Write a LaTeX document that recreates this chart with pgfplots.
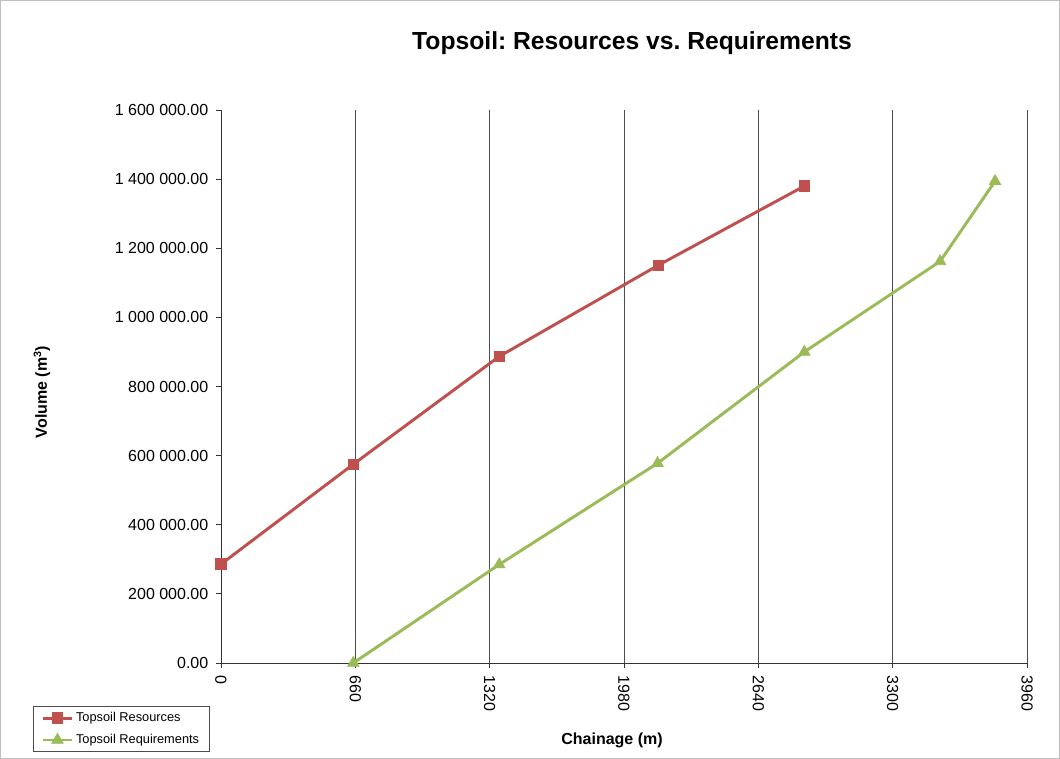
\documentclass[border=0pt]{standalone}
\usepackage{pgfplots}
\pgfplotsset{compat=1.18}
\usepackage{fontspec}
\setmainfont{Liberation Sans}
\frenchspacing
\definecolor{xlred}{HTML}{C0504D}
\definecolor{xlgreen}{HTML}{9BBB59}
\begin{document}
\begin{tikzpicture}
\draw[draw=black!25, line width=0.8pt] (0.4pt,0.4pt) rectangle (794.6pt,568.85pt);
\begin{axis}[
  at={(165.75pt,72pt)}, anchor=south west,
  scale only axis, width=604.5pt, height=414.75pt,
  xmin=0, xmax=3960, ymin=0, ymax=1600000,
  axis x line=bottom, axis y line=left,
  axis line style={-, draw=black!80, line width=0.6pt},
  xtick={0,660,1320,1980,2640,3300,3960},
  ytick={0,200000,400000,600000,800000,1000000,1200000,1400000,1600000},
  scaled ticks=false,
  tick align=outside, major tick length=4pt,
  tick style={draw=black!80, line width=0.6pt},
  xmajorgrids, grid style={draw=black!70, line width=0.6pt},
  /pgf/number format/assume math mode=true,
  tick label style={font=\fontsize{12}{14}\selectfont},
  xticklabel style={rotate=-90, anchor=west, /pgf/number format/1000 sep={}, xshift=2pt},
  yticklabel style={xshift=-2pt, /pgf/number format/fixed, /pgf/number format/fixed zerofill,
     /pgf/number format/precision=2, /pgf/number format/1000 sep={\ }},
  clip=false,
  legend image code/.code={\draw[mark repeat=2,mark phase=2,#1] plot coordinates {(0cm,0cm) (0.38cm,0cm) (0.76cm,0cm)};},
  legend style={at={(axis description cs:-0.233,-0.161)}, anchor=south west,
     font=\fontsize{9.6}{11}\selectfont, draw=black!70, line width=0.6pt,
     row sep=4pt, inner xsep=6pt, inner ysep=2.5pt,
     /tikz/every even column/.append style={column sep=12pt}},
  legend cell align=left,
]
\addplot[color=xlred, line width=2.2pt, mark=square*, mark size=4pt, mark options={fill=xlred, draw=xlred, line width=0.5pt}]
 coordinates {(0,286000) (650,575000) (1367,887000) (2149,1151000) (2866,1380000)};
\addlegendentry{Topsoil Resources}
\addplot[color=xlgreen, line width=2.2pt, mark=triangle*, mark size=5pt, mark options={fill=xlgreen, draw=xlgreen, line width=0.5pt}]
 coordinates {(650,0) (1367,285000) (2145,578000) (2866,900000) (3533,1162000) (3803,1394000)};
\addlegendentry{Topsoil Requirements}
\end{axis}
\node[font=\bfseries\fontsize{18.5}{22}\selectfont] at (474pt,537pt) {Topsoil: Resources vs. Requirements};
\node[font=\bfseries\fontsize{12}{14}\selectfont, rotate=90] at (31.5pt,275.25pt) {Volume (m\textsuperscript{3})};
\node[font=\bfseries\fontsize{12}{14}\selectfont] at (459pt,14.25pt) {Chainage (m)};
\end{tikzpicture}
\end{document}
